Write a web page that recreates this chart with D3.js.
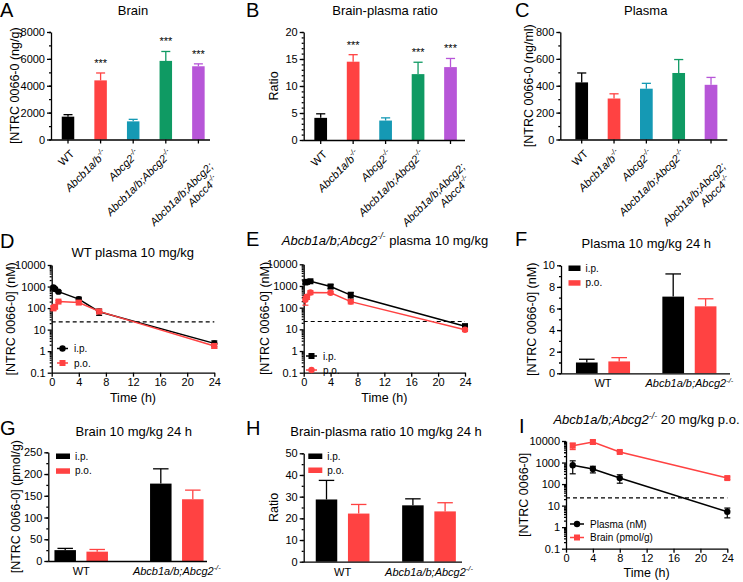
<!DOCTYPE html>
<html>
<head>
<meta charset="utf-8">
<script src="https://cdn.jsdelivr.net/npm/d3@7"></script>
<style>
body { margin: 0; background: #fff; }
svg { display: block; font-family: "Liberation Sans", Arial, Helvetica, sans-serif; }
.axis path, .axis line { stroke: #000; stroke-width: 1.3; }
</style>
</head>
<body>
<script>
// ---- data ----
var genotypes = ["WT", "Abcb1a/b", "Abcg2", "Abcb1a/b;Abcg2", "Abcb1a/b;Abcg2;Abcc4"];
var genoLabels = ["WT", "<i>Abcb1a/b</i><sup>-/-</sup>", "<i>Abcg2</i><sup>-/-</sup>",
    "<i>Abcb1a/b;Abcg2</i><sup>-/-</sup>", ["<i>Abcb1a/b;Abcg2;</i>", "<i>Abcc4</i><sup>-/-</sup>"]];
var brainMean = [1700, 4400, 1350, 5850, 5450];
var brainSem = [150, 550, 150, 700, 180];
var brainSig = ["", "***", "", "***", "***"];
var ratioMean = [4.1, 14.5, 3.6, 12.2, 13.5];
var ratioSem = [0.75, 1.3, 0.5, 2.2, 1.6];
var ratioSig = ["", "***", "", "***", "***"];
var plasmaMean = [425, 305, 378, 495, 407];
var plasmaSem = [70, 35, 40, 100, 55];

var timeD = [0.25, 0.5, 1, 4, 7, 24];
var wtIpMean = [900, 770, 580, 260, 68, 2.3];
var wtIpSd = [150, 120, 60, 60, 22, 0.7];
var wtPoMean = [100, 115, 200, 180, 70, 1.75];
var wtPoSd = [25, 20, 20, 30, 15, 0.4];
var dkoIpMean = [1450, 1550, 1650, 950, 380, 14];
var dkoIpSd = [200, 200, 150, 200, 130, 3];
var dkoPoMean = [230, 320, 500, 490, 190, 9.5];
var dkoPoSd = [100, 80, 100, 80, 40, 1.5];
var lloq = 23;

var routes = ["i.p.", "p.o."];
var groups24 = ["WT", "Abcb1a/b;Abcg2"];
var groupLabels = ["WT", "<i>Abcb1a/b;Abcg2</i><sup>-/-</sup>"];
var plasma24Ip = [1.0, 7.1], plasma24IpSd = [0.3, 2.1];
var plasma24Po = [1.1, 6.2], plasma24PoSd = [0.35, 0.7];
var brain24Ip = [25, 178], brain24IpSd = [4, 34];
var brain24Po = [21.5, 142], brain24PoSd = [5, 21];
var ratio24Ip = [28.7, 26], ratio24IpSd = [8.8, 3];
var ratio24Po = [22.2, 23.2], ratio24PoSd = [4.2, 4];

var timeI = [1, 4, 8, 24];
var iPlasmaMean = [750, 500, 190, 5.2];
var iPlasmaSd = [450, 170, 80, 2.5];
var iBrainMean = [6000, 9000, 3100, 190];
var iBrainSd = [2000, 1800, 300, 25];

var logMajors = [0.1, 1, 10, 100, 1000, 10000];
var timeTicks = [0, 4, 8, 12, 16, 20, 24];

// ---- style ----
var genoColors = ["#000000", "#ff4242", "#1599b4", "#0f9a63", "#b756d8"];
var RED = "#ff4242";
var FONT = '"Liberation Sans", Arial, Helvetica, sans-serif';

var svg = d3.select("body").append("svg").attr("width", 743).attr("height", 582);

// text with <i> and <sup> bits
function rich(el, markup, fs){
    var re = /<(i|sup)>(.*?)<\/\1>|([^<]+)/g, m, up = 0;
    while ((m = re.exec(markup)) !== null){
        var t = el.append("tspan");
        if (up){ t.attr("dy", up); up = 0; }
        if (m[3] !== undefined){ t.text(m[3]); }
        else if (m[1] === "i"){ t.style("font-style", "italic").text(m[2]); }
        else {
            var sh = fs * 0.42;
            t.style("font-style", "italic").attr("font-size", fs * 0.68).attr("dy", -sh).text(m[2]);
            up = sh;
        }
    }
    return el;
}

function label(x, y, size, anchor){
    return svg.append("text").attr("x", x).attr("y", y).attr("font-size", size)
        .attr("text-anchor", anchor || "start").attr("fill", "#000");
}

function yLabel(x, y, str){
    var t = svg.append("text").attr("transform", "translate(" + x + "," + y + ") rotate(-90)")
        .attr("text-anchor", "middle").attr("dy", "0.35em").attr("font-size", 12.5);
    rich(t, str, 12.5);
}

function yAxis(y, x0, majors, minors, fmt){
    var g = svg.append("g").attr("class", "axis").attr("transform", "translate(" + x0 + ",0)")
        .call(d3.axisLeft(y).tickValues(majors).tickSize(4).tickSizeOuter(0).tickPadding(2)
            .tickFormat(fmt || d3.format("d")));
    g.attr("font-size", 11).attr("font-family", FONT);
    if (minors){
        var m = svg.append("g").attr("class", "axis").attr("transform", "translate(" + x0 + ",0)")
            .call(d3.axisLeft(y).tickValues(minors).tickSize(2).tickFormat(""));
        m.select(".domain").remove();
    }
}

function xLine(x0, x1, yb){
    svg.append("line").attr("x1", x0).attr("x2", x1).attr("y1", yb + 0.5).attr("y2", yb + 0.5)
        .attr("stroke", "#000").attr("stroke-width", 1.3);
}

function errUp(g, cx, y1, y2, cap, col){
    g.append("line").attr("x1", cx).attr("x2", cx).attr("y1", y1).attr("y2", y2)
        .attr("stroke", col).attr("stroke-width", 1.3);
    g.append("line").attr("x1", cx - cap / 2).attr("x2", cx + cap / 2).attr("y1", y2).attr("y2", y2)
        .attr("stroke", col).attr("stroke-width", 1.3);
}

// ---- row 1: five genotype bars ----
function barPanel(c){
    var y = d3.scaleLinear().domain([0, c.max]).range([c.bot, c.top]);
    var n = genotypes.length;
    var x = d3.scaleBand().domain(genotypes)
        .range([c.c0 - c.step / 2, c.c0 - c.step / 2 + n * c.step])
        .paddingInner(1 - c.bw / c.step).paddingOuter((1 - c.bw / c.step) / 2);
    var rows = genotypes.map(function(k, i){
        return {k: k, m: c.mean[i], e: c.err[i], col: genoColors[i], sig: c.sig ? c.sig[i] : "", lab: genoLabels[i]};
    });
    var g = svg.append("g");
    rows.forEach(function(d){
        var cx = x(d.k) + x.bandwidth() / 2;
        errUp(g, cx, y(d.m), y(d.m + d.e), c.bw * 0.72, d.col);
        if (d.sig) label(cx, y(d.m + d.e) - 6, 11, "middle").text(d.sig);
        g.append("line").attr("x1", cx).attr("x2", cx).attr("y1", c.bot).attr("y2", c.bot + 4)
            .attr("stroke", "#000").attr("stroke-width", 1.3);
        var lg = svg.append("g").attr("transform", "translate(" + (cx + 2) + "," + (c.bot + 10) + ") rotate(-45)");
        if (Array.isArray(d.lab)){
            rich(lg.append("text").attr("text-anchor", "end").attr("font-size", 11)
                .attr("x", -3).attr("y", 22), d.lab[0], 11);
            rich(lg.append("text").attr("text-anchor", "end").attr("font-size", 11)
                .attr("x", -9).attr("y", 35), d.lab[1], 11);
        } else {
            rich(lg.append("text").attr("text-anchor", "end").attr("font-size", 11)
                .attr("x", 0).attr("y", 7), d.lab, 11);
        }
    });
    g.selectAll("rect").data(rows).join("rect")
        .attr("x", function(d){ return x(d.k); })
        .attr("width", x.bandwidth())
        .attr("y", function(d){ return y(d.m); })
        .attr("height", function(d){ return c.bot - y(d.m); })
        .attr("fill", function(d){ return d.col; });
    yAxis(y, c.x0, d3.range(0, c.max + 1e-9, c.major), d3.range(0, c.max + 1e-9, c.minor));
    xLine(c.x0, c.x1, c.bot);
    label(c.tx, c.ty, 13, "middle").text(c.title);
    label(c.lx, c.ly, 20).text(c.letter);
    yLabel(c.ylx, (c.top + c.bot) / 2, c.ylab);
}

barPanel({letter: "A", lx: 0, ly: 17, title: "Brain", tx: 133, ty: 14.5, ylab: "[NTRC 0066-0 (ng/g)", ylx: 15,
    mean: brainMean, err: brainSem, sig: brainSig, max: 8000, major: 2000, minor: 1000,
    x0: 51, x1: 210, top: 32, bot: 139.5, c0: 68, step: 32.6, bw: 12.5});
barPanel({letter: "B", lx: 246, ly: 17, title: "Brain-plasma ratio", tx: 385, ty: 14.5, ylab: "Ratio", ylx: 274,
    mean: ratioMean, err: ratioSem, sig: ratioSig, max: 20, major: 5, minor: 1,
    x0: 303.7, x1: 465, top: 32, bot: 140, c0: 320.7, step: 32.45, bw: 12.7});
barPanel({letter: "C", lx: 515, ly: 17, title: "Plasma", tx: 645.7, ty: 15, ylab: "[NTRC 0066-0 (ng/ml)", ylx: 529,
    mean: plasmaMean, err: plasmaSem, sig: null, max: 800, major: 200, minor: 100,
    x0: 560.3, x1: 727.3, top: 32, bot: 139.5, c0: 581.7, step: 32.33, bw: 12.7});

// ---- time-course panels (log y) ----
function marker(g, shape, x, y, col){
    if (shape === "circle"){
        g.append("circle").attr("cx", x).attr("cy", y).attr("r", 3.2).attr("fill", col);
    } else {
        g.append("rect").attr("x", x - 3).attr("y", y - 3).attr("width", 6).attr("height", 6).attr("fill", col);
    }
}

function linePanel(c){
    var x = d3.scaleLinear().domain([0, 24]).range([c.x0, c.x1]);
    var y = d3.scaleLog().domain([0.1, 10000]).range([c.bot, c.top]);
    var minors = [];
    for (var k = -1; k < 4; k++) for (var mm = 2; mm < 10; mm++) minors.push(mm * Math.pow(10, k));
    yAxis(y, c.x0, logMajors, minors, function(d){ return d < 1 ? "0.1" : String(d); });
    var xa = svg.append("g").attr("class", "axis").attr("transform", "translate(0," + c.bot + ")")
        .call(d3.axisBottom(x).tickValues(timeTicks).tickSize(4).tickSizeOuter(0).tickPadding(2));
    xa.attr("font-size", 11).attr("font-family", FONT);

    svg.append("line").attr("x1", c.x0).attr("x2", c.x1).attr("y1", y(lloq)).attr("y2", y(lloq))
        .attr("stroke", "#000").attr("stroke-width", 1.2).attr("stroke-dasharray", "4,3");

    var line = d3.line().x(function(d){ return x(d.t); }).y(function(d){ return y(d.m); });
    c.series.forEach(function(s){
        var pts = s.t.map(function(t, i){ return {t: t, m: s.mean[i], e: s.sd[i]}; });
        var g = svg.append("g");
        pts.forEach(function(d){
            var cx = x(d.t), lo = y(Math.max(d.m - d.e, 0.1)), hi = y(d.m + d.e);
            g.append("line").attr("x1", cx).attr("x2", cx).attr("y1", lo).attr("y2", hi)
                .attr("stroke", s.col).attr("stroke-width", 1.2);
            [lo, hi].forEach(function(yy){
                g.append("line").attr("x1", cx - 3).attr("x2", cx + 3).attr("y1", yy).attr("y2", yy)
                    .attr("stroke", s.col).attr("stroke-width", 1.2);
            });
        });
        g.append("path").datum(pts).attr("d", line).attr("fill", "none")
            .attr("stroke", s.col).attr("stroke-width", 1.5);
        pts.forEach(function(d){ marker(g, s.shape, x(d.t), y(d.m), s.col); });
        // legend entry
        svg.append("line").attr("x1", c.legX).attr("x2", c.legX + c.legW).attr("y1", s.ly).attr("y2", s.ly)
            .attr("stroke", s.col).attr("stroke-width", 1.5);
        marker(svg, s.shape, c.legX + c.legW / 2, s.ly, s.col);
        label(c.legX + c.legW + 6, s.ly + 3.5, 10).text(s.name);
    });

    label(c.lx, c.ly, 20).text(c.letter);
    rich(label(c.tx, c.ty, 13, "middle"), c.title, 13);
    yLabel(c.ylx, (c.top + c.bot) / 2, c.ylab);
    label((c.x0 + c.x1) / 2, c.xly, 12.5, "middle").text("Time (h)");
}

linePanel({letter: "D", lx: 0, ly: 248, title: "WT plasma 10 mg/kg", tx: 132.8, ty: 257,
    ylab: "[NTRC 0066-0] (nM)", ylx: 11, xly: 402,
    x0: 51.7, x1: 214.3, top: 265, bot: 372.7, legX: 57, legW: 11,
    series: [
        {name: "i.p.", t: timeD, mean: wtIpMean, sd: wtIpSd, col: "#000", shape: "circle", ly: 348.5},
        {name: "p.o.", t: timeD, mean: wtPoMean, sd: wtPoSd, col: RED, shape: "square", ly: 363}
    ]});
linePanel({letter: "E", lx: 246, ly: 246, title: "<i>Abcb1a/b;Abcg2</i><sup>-/-</sup> plasma 10 mg/kg", tx: 385, ty: 244.5,
    ylab: "[NTRC 0066-0] (nM)", ylx: 265, xly: 402,
    x0: 303.7, x1: 465, top: 264.3, bot: 372.7, legX: 306, legW: 11,
    series: [
        {name: "i.p.", t: timeD, mean: dkoIpMean, sd: dkoIpSd, col: "#000", shape: "square", ly: 356},
        {name: "p.o.", t: timeD, mean: dkoPoMean, sd: dkoPoSd, col: RED, shape: "circle", ly: 370}
    ]});
linePanel({letter: "I", lx: 519, ly: 433, title: "<i>Abcb1a/b;Abcg2</i><sup>-/-</sup> 20 mg/kg p.o.", tx: 646.5, ty: 424,
    ylab: "[NTRC 0066-0]", ylx: 523.3, xly: 577,
    x0: 566, x1: 727.3, top: 441, bot: 548.7, legX: 570, legW: 14,
    series: [
        {name: "Plasma (nM)", t: timeI, mean: iPlasmaMean, sd: iPlasmaSd, col: "#000", shape: "circle", ly: 524},
        {name: "Brain (pmol/g)", t: timeI, mean: iBrainMean, sd: iBrainSd, col: RED, shape: "square", ly: 537.5}
    ]});

// ---- 24 h grouped bars ----
function groupPanel(c){
    var y = d3.scaleLinear().domain([0, c.max]).range([c.bot, c.top]);
    var gx = d3.scaleBand().domain(groups24).range([c.g0 - c.gs / 2, c.g0 - c.gs / 2 + 2 * c.gs]);
    var sub = d3.scaleBand().domain(routes).range([-c.ss, c.ss])
        .paddingInner(1 - c.bw / c.ss).paddingOuter((1 - c.bw / c.ss) / 2);
    var cols = ["#000000", RED];
    var rows = [];
    groups24.forEach(function(gname, i){
        rows.push({g: gname, r: routes[0], m: c.ip[i], e: c.ipSd[i], col: cols[0]});
        rows.push({g: gname, r: routes[1], m: c.po[i], e: c.poSd[i], col: cols[1]});
    });
    var g = svg.append("g");
    function left(d){ return gx(d.g) + gx.bandwidth() / 2 + sub(d.r); }
    rows.forEach(function(d){
        errUp(g, left(d) + sub.bandwidth() / 2, y(d.m), y(d.m + d.e), c.bw * 0.72, d.col);
    });
    g.selectAll("rect").data(rows).join("rect")
        .attr("x", left)
        .attr("width", sub.bandwidth())
        .attr("y", function(d){ return y(d.m); })
        .attr("height", function(d){ return c.bot - y(d.m); })
        .attr("fill", function(d){ return d.col; });
    yAxis(y, c.x0, d3.range(0, c.max + 1e-9, c.major), d3.range(0, c.max + 1e-9, c.minor));
    xLine(c.x0, c.x1, c.bot);
    groups24.forEach(function(gname, i){
        rich(label(gx(gname) + gx.bandwidth() / 2, c.bot + 14, 11, "middle"), groupLabels[i], 11);
    });
    routes.forEach(function(r, i){
        svg.append("rect").attr("x", c.legX).attr("y", c.legY[i] - 2.5).attr("width", c.legW).attr("height", 5.5)
            .attr("fill", cols[i]);
        label(c.legX + c.legW + 5, c.legY[i] + 3.5, 10).text(r);
    });
    label(c.lx, c.ly, 20).text(c.letter);
    label(c.tx, c.ty, 13, "middle").text(c.title);
    yLabel(c.ylx, (c.top + c.bot) / 2, c.ylab);
}

groupPanel({letter: "F", lx: 515, ly: 246, title: "Plasma 10 mg/kg 24 h", tx: 646.3, ty: 248,
    ylab: "[NTRC 0066-0] (nM)", ylx: 531.7,
    ip: plasma24Ip, ipSd: plasma24IpSd, po: plasma24Po, poSd: plasma24PoSd,
    max: 10, major: 2, minor: 1, x0: 561, x1: 730, top: 265.3, bot: 373.3,
    g0: 603, gs: 86.4, ss: 32.4, bw: 21.7, legX: 568.5, legW: 12, legY: [268, 282.7]});
groupPanel({letter: "G", lx: 0, ly: 435, title: "Brain 10 mg/kg 24 h", tx: 133.8, ty: 435.5,
    ylab: "[NTRC 0066-0] (pmol/g)", ylx: 16,
    ip: brain24Ip, ipSd: brain24IpSd, po: brain24Po, poSd: brain24PoSd,
    max: 250, major: 50, minor: 25, x0: 48.3, x1: 207, top: 452.3, bot: 561,
    g0: 81.2, gs: 95.6, ss: 32, bw: 21.5, legX: 56, legW: 14, legY: [456, 470.8]});
groupPanel({letter: "H", lx: 246, ly: 435, title: "Brain-plasma ratio 10 mg/kg 24 h", tx: 386, ty: 435.5,
    ylab: "Ratio", ylx: 274,
    ip: ratio24Ip, ipSd: ratio24IpSd, po: ratio24Po, poSd: ratio24PoSd,
    max: 50, major: 10, minor: 5, x0: 303.7, x1: 462, top: 453.3, bot: 561.7,
    g0: 342.6, gs: 86.4, ss: 32.2, bw: 21.5, legX: 308.3, legW: 14, legY: [456, 470]});
</script>
</body>
</html>
